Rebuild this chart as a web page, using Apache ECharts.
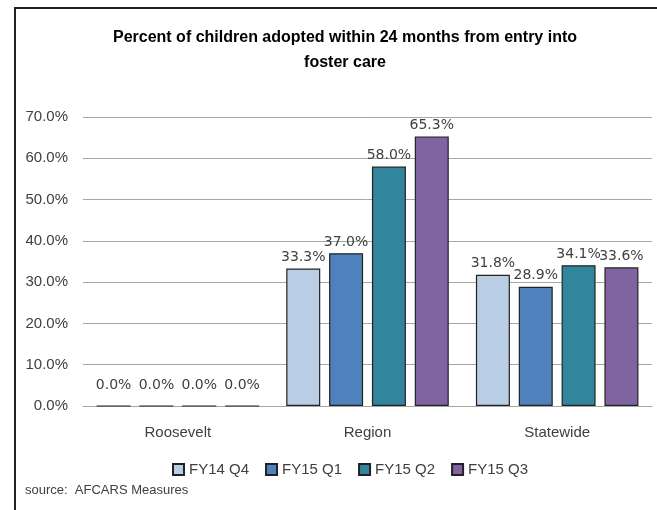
<!DOCTYPE html>
<html>
<head>
<meta charset="utf-8">
<script src="https://cdn.jsdelivr.net/npm/echarts@6/dist/echarts.min.js"></script>
<style>
html,body{margin:0;padding:0;background:#fff;}
#chart{width:657px;height:510px;}
</style>
</head>
<body>
<div id="chart"></div>
<script>
var titleLines = ['Percent of children adopted within 24 months from entry into', 'foster care'];
var categories = ['Roosevelt', 'Region', 'Statewide'];
var seriesNames = ['FY14 Q4', 'FY15 Q1', 'FY15 Q2', 'FY15 Q3'];
var fy14q4 = [0.0, 33.3, 31.8];
var fy15q1 = [0.0, 37.0, 28.9];
var fy15q2 = [0.0, 58.0, 34.1];
var fy15q3 = [0.0, 65.3, 33.6];
var yTicks = [0, 10, 20, 30, 40, 50, 60, 70];
var sourceText = 'source:  AFCARS Measures';

var colors = ['#b9cde5', '#4f81bd', '#31859c', '#8064a2'];
var allData = [fy14q4, fy15q1, fy15q2, fy15q3];
var narrow = '"Liberation Sans", sans-serif';

var chart = echarts.init(document.getElementById('chart'), null, {renderer: 'canvas'});
var series = allData.map(function (arr, i) {
  return {
    name: seriesNames[i],
    type: 'bar',
    barWidth: 34,
    barGap: '26%',
    data: arr.map(function (v) {
      var item = {value: v};
      if (v === 0) item.label = {offset: [0, -9]};
      return item;
    }),
    itemStyle: {color: colors[i], borderColor: '#222', borderWidth: 1.2},
    label: {
      show: true,
      position: 'top',
      distance: 4,
      formatter: function (p) { return p.value.toFixed(1) + '%'; },
      fontFamily: '"DejaVu Sans", sans-serif',
      fontSize: 14,
      color: '#404040'
    }
  };
});

chart.setOption({
  animation: false,
  backgroundColor: '#fff',
  grid: {left: 83, right: 5, top: 117, bottom: 104},
  legend: {
    data: seriesNames,
    icon: 'rect',
    left: 167,
    top: 457,
    itemWidth: 11,
    itemHeight: 11,
    itemGap: 16,
    textStyle: {fontFamily: narrow, fontSize: 15, color: '#404040'}
  },
  xAxis: {
    type: 'category',
    data: categories,
    axisLine: {lineStyle: {color: '#a6a6a6'}},
    axisTick: {show: false},
    axisLabel: {fontFamily: narrow, fontSize: 15, color: '#404040', margin: 19}
  },
  yAxis: {
    type: 'value',
    min: yTicks[0],
    max: yTicks[yTicks.length - 1],
    interval: 10,
    axisLine: {show: false},
    axisTick: {show: false},
    splitLine: {lineStyle: {color: '#a6a6a6'}},
    axisLabel: {
      fontFamily: narrow, fontSize: 15, color: '#404040', margin: 15,
      formatter: function (v) { return v.toFixed(1) + '%'; }
    }
  },
  graphic: [
    {type: 'rect', shape: {x: 15, y: 8, width: 700, height: 600}, style: {fill: 'none', stroke: '#222', lineWidth: 2}, silent: true, z: 0},
    {type: 'text', x: 345, y: 38, style: {text: titleLines[0], textAlign: 'center', textVerticalAlign: 'middle', font: 'bold 16px ' + narrow, fill: '#000'}},
    {type: 'text', x: 345, y: 63, style: {text: titleLines[1], textAlign: 'center', textVerticalAlign: 'middle', font: 'bold 16px ' + narrow, fill: '#000'}},
    {type: 'text', x: 25, y: 490, style: {text: sourceText, textAlign: 'left', textVerticalAlign: 'middle', font: '13px ' + narrow, fill: '#404040'}}
  ],
  series: series
});
</script>
</body>
</html>
